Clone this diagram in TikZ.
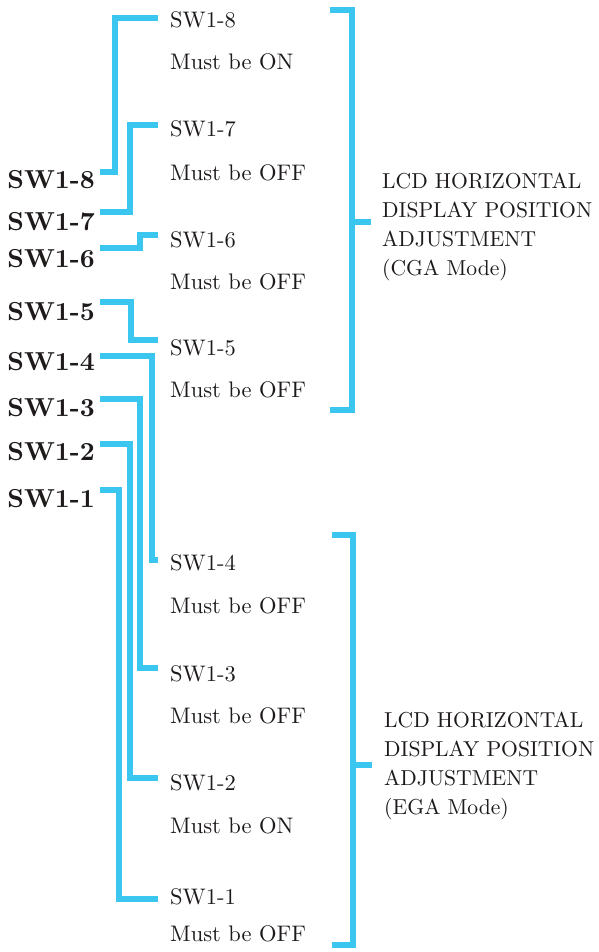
\documentclass[tikz,border=0pt]{standalone}
\font\regf="[lmroman10-regular.otf]" at 22.5pt
\font\descf="[lmroman10-regular.otf]" at 21.6pt
\font\boldf="[lmroman10-bold.otf]" at 26pt
\newcommand\descfont{\descf\baselineskip=29pt\relax}
\definecolor{wirec}{RGB}{58,198,238}
\definecolor{inkc}{RGB}{30,26,26}
\tikzset{
  wire/.style={draw=wirec, line width=5.2pt, line join=miter, line cap=butt},
  lab/.style={font=\boldf, text=inkc, inner xsep=5pt, inner ysep=0pt, anchor=base east},
  swr/.style={font=\regf, text=inkc, inner xsep=12pt, inner ysep=0pt, anchor=base west},
  must/.style={font=\regf, text=inkc, inner sep=0pt, anchor=base west},
  desc/.style={font=\descfont, text=inkc, inner sep=0pt, anchor=north west, align=left},
}
\begin{document}
\begin{tikzpicture}[x=1pt,y=-1pt]
\useasboundingbox (0,0) rectangle (599,952);

% left bold labels
\node[lab] (L8) at (100,188) {SW1-8};
\node[lab] (L7) at (100,230) {SW1-7};
\node[lab] (L6) at (100,267) {SW1-6};
\node[lab] (L5) at (100,320) {SW1-5};
\node[lab] (L4) at (100,370) {SW1-4};
\node[lab] (L3) at (100,416) {SW1-3};
\node[lab] (L2) at (100,460) {SW1-2};
\node[lab] (L1) at (100,507) {SW1-1};

% right switch texts
\node[swr] (R8) at (158,28) {SW1-8};
\node[must] (M8) at (170,70) {Must be ON};
\node[swr] (R7) at (158,137) {SW1-7};
\node[must] (M7) at (170,180) {Must be OFF};
\node[swr] (R6) at (158,247) {SW1-6};
\node[must] (M6) at (170,289) {Must be OFF};
\node[swr] (R5) at (158,355) {SW1-5};
\node[must] (M5) at (170,397) {Must be OFF};
\node[swr] (R4) at (158,570) {SW1-4};
\node[must] (M4) at (170,613) {Must be OFF};
\node[swr] (R3) at (158,681) {SW1-3};
\node[must] (M3) at (170,723) {Must be OFF};
\node[swr] (R2) at (158,790) {SW1-2};
\node[must] (M2) at (170,833) {Must be ON};
\node[swr] (R1) at (158,904) {SW1-1};
\node[must] (M1) at (170,941) {Must be OFF};

% connectors
\draw[wire] (L8.east |- 0,172) -- (115,172) -- (115,18) -- (R8.west |- 0,18);
\draw[wire] (L7.east |- 0,212) -- (130,212) -- (130,125) -- (R7.west |- 0,125);
\draw[wire] (L6.east |- 0,248) -- (140,248) -- (140,235) -- (R6.west |- 0,235);
\draw[wire] (L5.east |- 0,302) -- (131,302) -- (131,340) -- (R5.west |- 0,340);
\draw[wire] (L4.east |- 0,356) -- (152,356) -- (152,560) -- (R4.west |- 0,560);
\draw[wire] (L3.east |- 0,399) -- (140,399) -- (140,668) -- (R3.west |- 0,668);
\draw[wire] (L2.east |- 0,444) -- (130,444) -- (130,778) -- (R2.west |- 0,778);
\draw[wire] (L1.east |- 0,490) -- (119,490) -- (119,899) -- (R1.west |- 0,899);

% descriptions
\node[desc] (D1) at (382,173) {LCD HORIZONTAL\\DISPLAY POSITION\\ADJUSTMENT\\(CGA Mode)};
\node[desc] (D2) at (384,712) {LCD HORIZONTAL\\DISPLAY POSITION\\ADJUSTMENT\\(EGA Mode)};

% brackets
\coordinate (B1t) at (330,10);
\coordinate (B1b) at (330,410);
\coordinate (B1m) at (352,222);
\coordinate (B1e) at (371,222);
\draw[wire] (B1t) -- (352,10) -- (352,410) -- (B1b);
\draw[wire] (B1m) -- (B1e);
\coordinate (B2t) at (332,535);
\coordinate (B2b) at (332,945);
\coordinate (B2m) at (353,765);
\coordinate (B2e) at (372,765);
\draw[wire] (B2t) -- (353,535) -- (353,945) -- (B2b);
\draw[wire] (B2m) -- (B2e);
\end{tikzpicture}
\end{document}
